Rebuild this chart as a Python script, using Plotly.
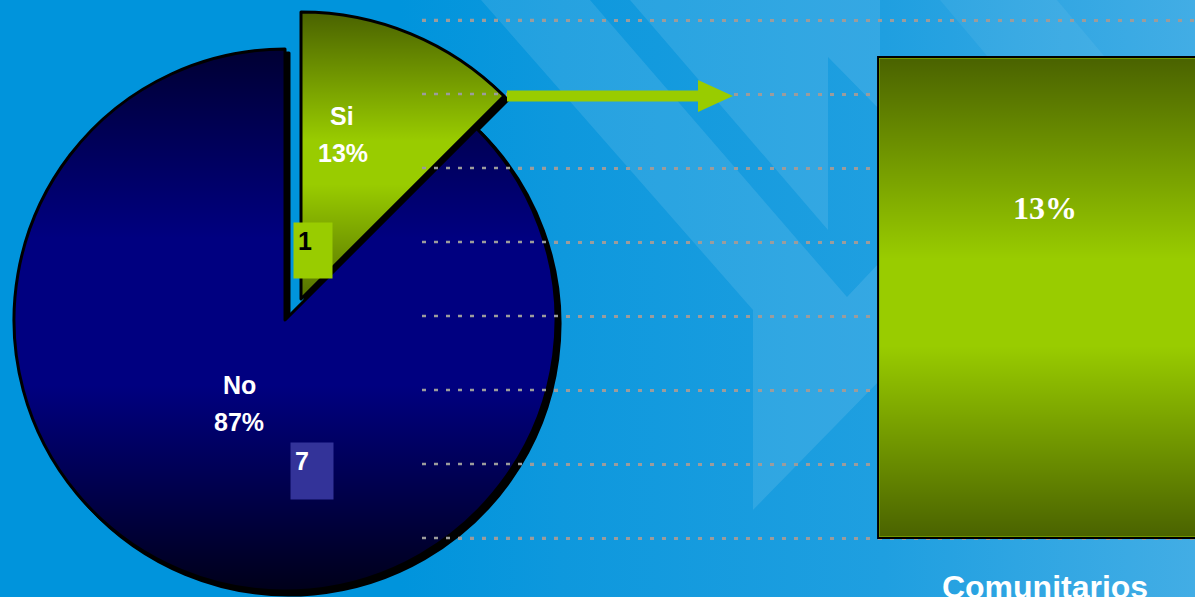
import base64
import math
import plotly.graph_objects as go

# ---------------- data ----------------
pie_labels = ["Si", "No"]
pie_counts = [1, 7]
pie_pct = [13, 87]
bar_categories = ["Comunitarios"]
bar_values = [13]
y_ticks = [0, 2, 4, 6, 8, 10, 12, 14]

# ---------------- helpers ----------------
W, H = 1195, 597


def fx(p):
    return p / W


def fy(p):
    return 1 - p / H


def svg_uri(svg):
    return "data:image/svg+xml;base64," + base64.b64encode(svg.encode()).decode()


CLEAR = "rgba(0,0,0,0)"
GREEN = "#99cc00"
NAVY = "#000080"
GRID = "#9c9c9c"


def pie_trace(cx, cy, r, show_idx, color, line_color="black", line_w=3):
    colors = [CLEAR, CLEAR]
    colors[show_idx] = color
    lcols = [CLEAR, CLEAR]
    lcols[show_idx] = line_color
    return go.Pie(
        labels=pie_labels, values=pie_counts, sort=False,
        direction="clockwise", rotation=0,
        domain=dict(x=[fx(cx - r), fx(cx + r)], y=[fy(cy + r), fy(cy - r)]),
        marker=dict(colors=colors, line=dict(color=lcols, width=line_w)),
        textinfo="none", hoverinfo="skip", showlegend=False,
    )


# pie geometry (pixels)
NO_C, NO_R = (285, 320), 271
SI_C, SI_R = (301, 299), 287
SH = 4  # shadow offset

fig = go.Figure()
fig.add_trace(pie_trace(NO_C[0] + SH, NO_C[1] + SH, NO_R, 1, "black", "black", 3))
fig.add_trace(pie_trace(SI_C[0] + SH, SI_C[1] + SH, SI_R, 0, "black", "black", 3))
fig.add_trace(pie_trace(NO_C[0], NO_C[1], NO_R, 1, NAVY))
fig.add_trace(pie_trace(SI_C[0], SI_C[1], SI_R, 0, GREEN))

fig.add_trace(go.Bar(
    x=bar_categories, y=bar_values, width=0.648,
    marker=dict(color=GREEN, line=dict(color="black", width=2)),
    hoverinfo="skip", showlegend=False,
))

# ---------------- background ----------------
bg_svg = f'''<svg xmlns="http://www.w3.org/2000/svg" width="{W}" height="{H}" viewBox="0 0 {W} {H}" preserveAspectRatio="none">
<defs><linearGradient id="g" gradientUnits="userSpaceOnUse" x1="0" y1="0" x2="{W}" y2="0">
<stop offset="0" stop-color="#0094dc"/><stop offset="0.335" stop-color="#0094dc"/>
<stop offset="0.47" stop-color="#0e98dd"/><stop offset="0.74" stop-color="#1f9fe0"/>
<stop offset="1" stop-color="#42ade5"/>
</linearGradient></defs>
<rect x="0" y="0" width="{W}" height="{H}" fill="url(#g)"/>
<polygon points="481,0 590,0 847,297 880,262 880,380 753,510 753,310" fill="#ffffff" fill-opacity="0.10"/>
<polygon points="630,0 880,0 880,110 828,57 828,230" fill="#ffffff" fill-opacity="0.10"/>
<polygon points="940,0 1057,0 1105,57 988,57" fill="#ffffff" fill-opacity="0.06"/>
</svg>'''

images = [dict(source=svg_uri(bg_svg), xref="paper", yref="paper", x=0, y=1, sizex=1, sizey=1,
               sizing="stretch", xanchor="left", yanchor="top", layer="below")]


# ---------------- gradient shading overlays ----------------
def shade_svg(w, h, shape, y0, y1, stops):
    st = "".join(f'<stop offset="{o}" stop-color="#000" stop-opacity="{a}"/>' for o, a in stops)
    return (f'<svg xmlns="http://www.w3.org/2000/svg" width="{w}" height="{h}" viewBox="0 0 {w} {h}" '
            f'preserveAspectRatio="none"><defs><linearGradient id="s" gradientUnits="userSpaceOnUse" '
            f'x1="0" y1="{y0}" x2="0" y2="{y1}">{st}</linearGradient></defs>{shape}</svg>')


def sector(r, a0, a1):
    def pt(a):
        t = math.radians(a)
        return r + r * math.sin(t), r - r * math.cos(t)
    x0, y0 = pt(a0)
    x1, y1 = pt(a1)
    large = 1 if (a1 - a0) > 180 else 0
    return f'<path d="M {r},{r} L {x0:.2f},{y0:.2f} A {r} {r} 0 {large} 1 {x1:.2f},{y1:.2f} Z" fill="url(#s)"/>'


total = sum(pie_counts)
ang = [0]
for c in pie_counts:
    ang.append(ang[-1] + 360 * c / total)

si_shape = sector(SI_R, ang[0], ang[1])
images.append(dict(source=svg_uri(shade_svg(2 * SI_R, 2 * SI_R, si_shape, 0, SI_R,
                                             [(0, 0.52), (0.45, 0), (0.6, 0), (1, 0.45)])),
                   xref="paper", yref="paper", x=fx(SI_C[0] - SI_R), y=fy(SI_C[1] - SI_R),
                   sizex=2 * SI_R / W, sizey=2 * SI_R / H, sizing="stretch",
                   xanchor="left", yanchor="top", layer="above"))
no_shape = sector(NO_R, ang[1], ang[2])
images.append(dict(source=svg_uri(shade_svg(2 * NO_R, 2 * NO_R, no_shape, 0, 2 * NO_R,
                                             [(0, 0.6), (0.35, 0), (0.62, 0), (1, 0.8)])),
                   xref="paper", yref="paper", x=fx(NO_C[0] - NO_R), y=fy(NO_C[1] - NO_R),
                   sizex=2 * NO_R / W, sizey=2 * NO_R / H, sizing="stretch",
                   xanchor="left", yanchor="top", layer="above"))
PPU = 37.0  # pixels per y unit
BAR_L, BAR_R, Y0PX = 878, 1212, 538
bar_top = Y0PX - bar_values[0] * PPU
bw, bh = BAR_R - BAR_L, Y0PX - bar_top
bar_shape = f'<rect x="1.5" y="1.5" width="{bw - 3}" height="{bh - 3:.1f}" fill="url(#s)"/>'
images.append(dict(source=svg_uri(shade_svg(bw, round(bh), bar_shape, 0, bh,
                                            [(0, 0.52), (0.42, 0), (0.6, 0), (1, 0.52)])),
                   xref="paper", yref="paper", x=fx(BAR_L), y=fy(bar_top),
                   sizex=bw / W, sizey=bh / H, sizing="stretch",
                   xanchor="left", yanchor="top", layer="above"))

# ---------------- shapes ----------------
shapes = []
for v in y_ticks:
    shapes.append(dict(type="line", xref="paper", yref="y", x0=fx(422), x1=fx(562), y0=v, y1=v,
                       line=dict(color=GRID, width=2.5, dash="4px,8px"), layer="above"))

ax0, ax1, atip = 507, 698, 733
ay, sh, hh = 96, 5.5, 16
arrow = (f"M {fx(ax0)},{fy(ay - sh)} L {fx(ax1)},{fy(ay - sh)} L {fx(ax1)},{fy(ay - hh)} "
         f"L {fx(atip)},{fy(ay)} L {fx(ax1)},{fy(ay + hh)} L {fx(ax1)},{fy(ay + sh)} "
         f"L {fx(ax0)},{fy(ay + sh)} Z")
shapes.append(dict(type="path", xref="paper", yref="paper", path=arrow,
                   fillcolor="#99cc00", line=dict(width=0), layer="above"))

# ---------------- annotations ----------------
LBL = dict(family="Liberation Sans, Arial", size=25, color="white", weight="bold")
ann = []


def text_at(txt, x, y, font):
    ann.append(dict(text=txt, x=fx(x), y=fy(y), xref="paper", yref="paper",
                    showarrow=False, font=font, xanchor="center", yanchor="middle"))


text_at(pie_labels[0], 342, 116, LBL)
text_at(f"{pie_pct[0]}%", 343, 153, LBL)
text_at(pie_labels[1], 239, 385, LBL)
text_at(f"{pie_pct[1]}%", 239, 422, LBL)


def value_box(val, x0, y0, x1, y1, bg, fg):
    ann.append(dict(text=f"<b>{val}</b>", x=fx(x0), y=fy(y0), xref="paper", yref="paper",
                    xanchor="left", yanchor="top", showarrow=False,
                    width=x1 - x0 - 8, height=y1 - y0 - 8, borderpad=4,
                    align="left", valign="top", bgcolor=bg,
                    font=dict(family="Liberation Sans, Arial", size=25, color=fg)))


value_box(pie_counts[0], 293, 222, 331, 277, "#99cc00", "black")
value_box(pie_counts[1], 290, 442, 332, 498, "#333399", "white")

ann.append(dict(text=f"{bar_values[0]}%", x=bar_categories[0], y=(Y0PX - 208) / PPU,
                xref="x", yref="y", showarrow=False,
                font=dict(family="Liberation Serif, Times New Roman", size=32, color="white",
                          weight="bold")))

fig.update_layout(
    width=W, height=H, autosize=False, margin=dict(l=0, r=0, t=0, b=0, autoexpand=False),
    paper_bgcolor="#0094dc", plot_bgcolor="rgba(0,0,0,0)",
    showlegend=False,
    xaxis=dict(domain=[fx(422), 1], type="category", range=[-1.209, 0.291],
               showgrid=False, showline=False, zeroline=False, ticks="", automargin=False,
               tickfont=dict(family="Liberation Sans, Arial", size=32, color="white", weight="bold"),
               ticklabelstandoff=25),
    yaxis=dict(domain=[fy(540), 1], range=[-2 / PPU, Y0PX / PPU], tickvals=y_ticks,
               showticklabels=False, showgrid=True, gridcolor=GRID, gridwidth=2.5, automargin=False,
               griddash="4px,8px", zeroline=False, showline=False),
    shapes=shapes, annotations=ann, images=images,
)

fig.write_html(
    "out.html",
    config={"responsive": False, "displayModeBar": False},
    post_script="document.documentElement.style.margin='0px';document.body.style.margin='0px';",
)
